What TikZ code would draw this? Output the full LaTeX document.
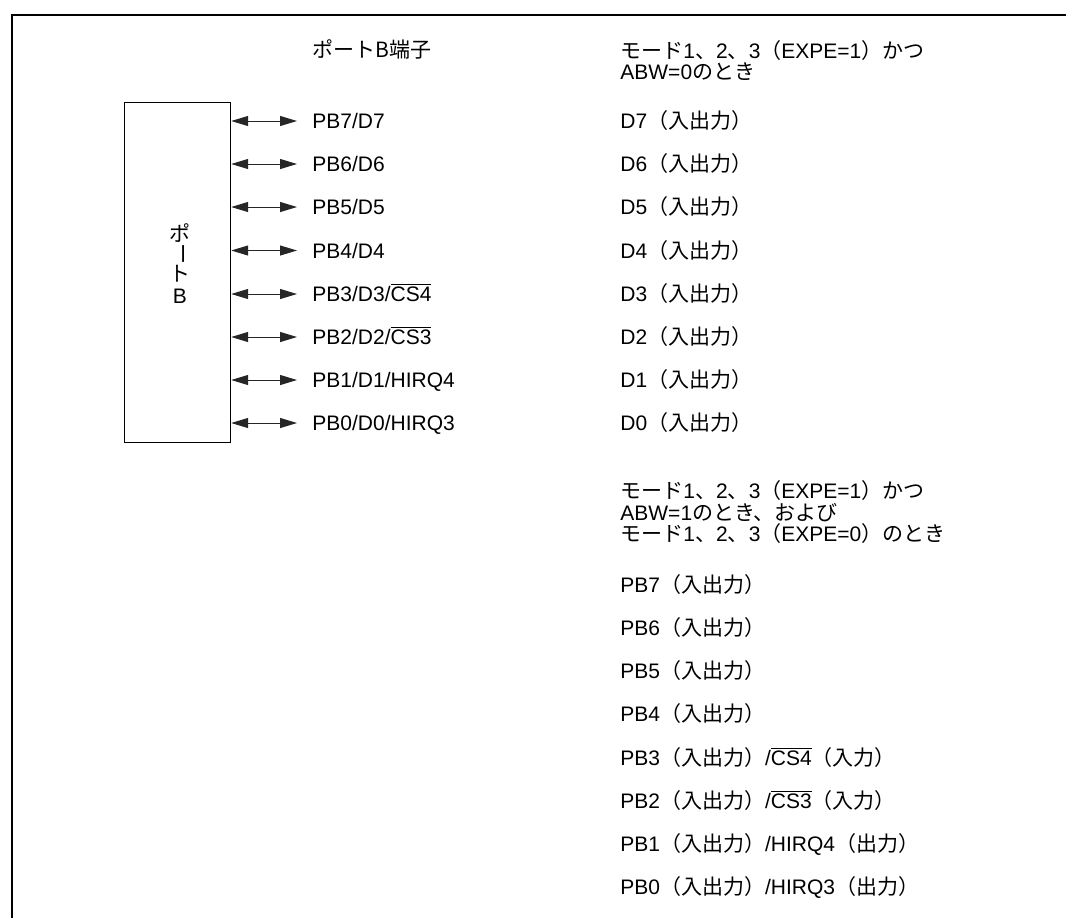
\documentclass[tikz,border=0pt]{standalone}
\usepackage{fontspec}
\setmainfont{Liberation Sans}
\newfontfamily\jp{Noto Sans CJK JP}
\usetikzlibrary{arrows.meta}
\newcommand{\J}[1]{{\jp #1}}
\newcommand{\ovl}[1]{$\overline{\hbox{#1}}$}
\newcommand{\io}{\J{（入出力）}}
\begin{document}
\begin{tikzpicture}[x=0.5pt,y=-0.5pt,
  every node/.style={font=\fontsize{10.5}{10.75}\selectfont, inner sep=0pt},
  lbl/.style={anchor=west, text height=7.5pt, text depth=0pt},
  hdr/.style={anchor=base west, align=left},
  bi/.style={{Triangle[length=8.5pt,width=5pt]}-{Triangle[length=8.5pt,width=5pt]}, line width=0.5pt, black!85},
  portbox/.style={draw, line width=0.6pt, minimum width=53pt, minimum height=170pt, anchor=north west},
  frame/.style={line width=0.9pt}]
\useasboundingbox (0,0) rectangle (1066,918);
\coordinate (ftl) at (12,15);
\coordinate (ftr) at (1066,15);
\coordinate (fbl) at (12,918);
\draw[frame] (ftr) -- (ftl) -- (fbl);

% port box
\node[portbox] (port) at (124,102) {};
\node (v1) at (180,233) {\J{ポ}};
\node (v2) at (180,254) {\rotatebox[origin=c]{-90}{\J{ー}}};
\node (v3) at (180,274) {\J{ト}};
\node (v4) at (180,296) {B};

% headers (base = baseline of last line)
\node[hdr] (hpin) at (312,57) {\J{ポートB端子}};
\node[hdr] (hm1) at (620,79.5) {\J{モード}1\J{、}2\J{、}3\J{（}EXPE=1\J{）かつ}\\ABW=0\J{のとき}};

% left pin labels
\node[lbl] (l7) at (312,121) {PB7/D7};
\node[lbl] (l6) at (312,164) {PB6/D6};
\node[lbl] (l5) at (312,207) {PB5/D5};
\node[lbl] (l4) at (312,250.5) {PB4/D4};
\node[lbl] (l3) at (312,294) {PB3/D3/\ovl{CS4}};
\node[lbl] (l2) at (312,337) {PB2/D2/\ovl{CS3}};
\node[lbl] (l1) at (312,380) {PB1/D1/HIRQ4};
\node[lbl] (l0) at (312,423) {PB0/D0/HIRQ3};

\foreach \i in {0,...,7}{
  \draw[bi] (port.east |- l\i.west) -- ([xshift=-7.5pt]l\i.west);
}

% right column block 1
\node[lbl] (a7) at (620,121) {D7\io};
\node[lbl] (a6) at (620,164) {D6\io};
\node[lbl] (a5) at (620,207) {D5\io};
\node[lbl] (a4) at (620,250.5) {D4\io};
\node[lbl] (a3) at (620,294) {D3\io};
\node[lbl] (a2) at (620,337) {D2\io};
\node[lbl] (a1) at (620,380) {D1\io};
\node[lbl] (a0) at (620,423) {D0\io};

% right column block 2
\node[hdr] (hm2) at (620,541.5) {\J{モード}1\J{、}2\J{、}3\J{（}EXPE=1\J{）かつ}\\ABW=1\J{のとき、および}\\\J{モード}1\J{、}2\J{、}3\J{（}EXPE=0\J{）のとき}};
\node[lbl] (b7) at (620,585) {PB7\io};
\node[lbl] (b6) at (620,628) {PB6\io};
\node[lbl] (b5) at (620,671) {PB5\io};
\node[lbl] (b4) at (620,714) {PB4\io};
\node[lbl] (b3) at (620,758) {PB3\io/\ovl{CS4}\J{（入力）}};
\node[lbl] (b2) at (620,801) {PB2\io/\ovl{CS3}\J{（入力）}};
\node[lbl] (b1) at (620,844) {PB1\io/HIRQ4\J{（出力）}};
\node[lbl] (b0) at (620,887) {PB0\io/HIRQ3\J{（出力）}};
\end{tikzpicture}
\end{document}
